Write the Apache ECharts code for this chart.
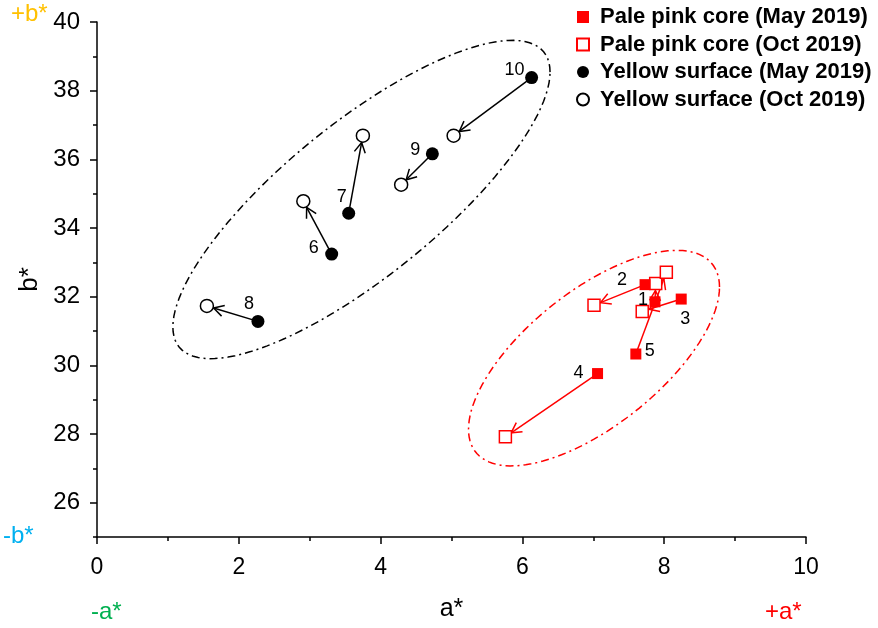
<!DOCTYPE html>
<html>
<head>
<meta charset="utf-8">
<script src="https://cdn.jsdelivr.net/npm/echarts@6/dist/echarts.min.js"></script>
<style>
  html, body { margin: 0; padding: 0; background: #fff; }
  #chart { width: 878px; height: 628px; }
</style>
</head>
<body>
<div id="chart"></div>
<script>
// sample ids
var pinkIds = ['1', '2', '3', '4', '5'];
var yellowIds = ['6', '7', '8', '9', '10'];

// [a*, b*]
var pinkMay = [[7.87, 31.85], [7.73, 32.35], [8.24, 31.93], [7.06, 29.76], [7.60, 30.33]];
var pinkOct = [[7.88, 32.38], [7.01, 31.75], [7.69, 31.57], [5.76, 27.92], [8.03, 32.71]];
var yellowMay = [[3.31, 33.24], [3.55, 34.43], [2.27, 31.28], [4.73, 36.16], [6.13, 38.38]];
var yellowOct = [[2.91, 34.78], [3.75, 36.69], [1.55, 31.73], [4.29, 35.26], [5.03, 36.69]];

// axis ticks
var xTicks = [0, 2, 4, 6, 8, 10];
var yMajorTicks = [26, 28, 30, 32, 34, 36, 38, 40];
var yMinorTicks = [25, 27, 29, 31, 33, 35, 37, 39];

// group ellipses: centre a*, b*, then two conjugate half-axis vectors (data units)
var yellowEllipse = [3.73, 34.83, 2.66, 3.71, 0, 2.78];
var pinkEllipse = [7.01, 30.21, 1.77, 2.07, 0, 2.36];

var chart = echarts.init(document.getElementById('chart'));

function pairs(from, to) {
  return from.map(function (p, i) { return [p[0], p[1], to[i][0], to[i][1]]; });
}

function arrowRenderer(color) {
  return function (params, api) {
    var p1 = api.coord([api.value(0), api.value(1)]);
    var p2 = api.coord([api.value(2), api.value(3)]);
    var dx = p2[0] - p1[0], dy = p2[1] - p1[1];
    var len = Math.sqrt(dx * dx + dy * dy);
    var ux = dx / len, uy = dy / len;
    var e = [p2[0] - ux * 7, p2[1] - uy * 7];
    var h = 10, w = 5.5;
    var l = [e[0] - ux * h - uy * w, e[1] - uy * h + ux * w];
    var r = [e[0] - ux * h + uy * w, e[1] - uy * h - ux * w];
    return {
      type: 'group',
      children: [
        { type: 'line', shape: { x1: p1[0], y1: p1[1], x2: e[0], y2: e[1] }, style: { stroke: color, lineWidth: 1.5 } },
        { type: 'polyline', shape: { points: [l, e, r] }, style: { stroke: color, lineWidth: 1.5, fill: null } }
      ]
    };
  };
}

function ellipseRenderer(color) {
  return function (params, api) {
    var pts = [];
    for (var i = 0; i <= 120; i++) {
      var t = i / 120 * Math.PI * 2;
      var c = Math.cos(t), s = Math.sin(t);
      pts.push(api.coord([
        api.value(0) + api.value(2) * c + api.value(4) * s,
        api.value(1) + api.value(3) * c + api.value(5) * s
      ]));
    }
    return {
      type: 'polyline',
      shape: { points: pts },
      style: { stroke: color, lineWidth: 1.5, fill: null, lineDash: [8, 4, 2, 4] }
    };
  };
}

var labelOffsets = {
  '1': [-12, -2], '2': [-23, -5], '3': [4, 20], '4': [-19, -1], '5': [14, -3],
  '6': [-18, -6], '7': [-7, -16], '8': [-9, -17], '9': [-17, -4], '10': [-17, -8]
};

var font = 'Liberation Sans, Arial, sans-serif';

function withLabels(points, ids) {
  return points.map(function (p, i) {
    return {
      value: p,
      label: {
        show: true, formatter: ids[i], position: 'inside', offset: labelOffsets[ids[i]],
        color: '#000', fontSize: 18, fontFamily: font
      }
    };
  });
}

chart.setOption({
  animation: false,
  grid: { left: 97, right: 72, top: 22, bottom: 91 },
  legend: {
    orient: 'vertical',
    left: 571,
    top: 1,
    itemWidth: 12,
    itemHeight: 12,
    itemGap: 5.5,
    data: ['Pale pink core (May 2019)', 'Pale pink core (Oct 2019)', 'Yellow surface (May 2019)', 'Yellow surface (Oct 2019)'],
    textStyle: { fontSize: 22, fontWeight: 'bold', color: '#000', fontFamily: font, lineHeight: 22, padding: [0, 0, 0, 6] }
  },
  xAxis: {
    type: 'value', min: 0, max: 10, interval: 2,
    name: 'a*', nameLocation: 'middle', nameGap: 60,
    nameTextStyle: { fontSize: 25, color: '#000', fontFamily: font },
    axisLine: { lineStyle: { color: '#000', width: 1.5 } },
    axisTick: { length: 7, lineStyle: { color: '#000', width: 1.5 } },
    minorTick: { show: true, splitNumber: 2, length: 4, lineStyle: { color: '#000', width: 1.5 } },
    splitLine: { show: false },
    axisLabel: { margin: 19, fontSize: 23, color: '#000', fontFamily: font, customValues: xTicks }
  },
  yAxis: [{
    type: 'value', min: 25, max: 40,
    name: 'b*', nameLocation: 'middle', nameGap: 50,
    nameTextStyle: { fontSize: 26, color: '#000', fontFamily: font },
    axisLine: { show: true, lineStyle: { color: '#000', width: 1.5 } },
    axisTick: { show: true, length: 7, customValues: yMajorTicks, lineStyle: { color: '#000', width: 1.5 } },
    splitLine: { show: false },
    axisLabel: { margin: 17, fontSize: 24, color: '#000', fontFamily: font, customValues: yMajorTicks }
  }, {
    type: 'value', min: 25, max: 40, position: 'left',
    axisLine: { show: false },
    axisTick: { show: true, length: 4, customValues: yMinorTicks, lineStyle: { color: '#000', width: 1.5 } },
    splitLine: { show: false },
    axisLabel: { show: false }
  }],
  graphic: [
    { type: 'text', left: 11, top: 2, style: { text: '+b*', fill: '#FFC000', fontSize: 24, fontFamily: font } },
    { type: 'text', left: 3, top: 524, style: { text: '-b*', fill: '#00B0F0', fontSize: 24, fontFamily: font } },
    { type: 'text', left: 91, top: 600, style: { text: '-a*', fill: '#00B050', fontSize: 24, fontFamily: font } },
    { type: 'text', left: 765, top: 600, style: { text: '+a*', fill: '#FF0000', fontSize: 24, fontFamily: font } }
  ],
  series: [
    { type: 'custom', renderItem: ellipseRenderer('#000'), data: [yellowEllipse], encode: { x: 0, y: 1 }, silent: true, z: 1 },
    { type: 'custom', renderItem: ellipseRenderer('#FF0000'), data: [pinkEllipse], encode: { x: 0, y: 1 }, silent: true, z: 1 },
    { type: 'custom', renderItem: arrowRenderer('#000'), data: pairs(yellowMay, yellowOct), encode: { x: [0, 2], y: [1, 3] }, silent: true, z: 2 },
    { type: 'custom', renderItem: arrowRenderer('#FF0000'), data: pairs(pinkMay, pinkOct), encode: { x: [0, 2], y: [1, 3] }, silent: true, z: 2 },
    {
      name: 'Pale pink core (May 2019)', type: 'scatter', symbol: 'rect', symbolSize: 11, z: 4,
      itemStyle: { color: '#FF0000', opacity: 1 }, data: withLabels(pinkMay, pinkIds)
    },
    {
      name: 'Pale pink core (Oct 2019)', type: 'scatter', symbol: 'rect', symbolSize: 12, z: 3,
      itemStyle: { color: '#fff', borderColor: '#FF0000', borderWidth: 1.5, opacity: 1 }, data: pinkOct
    },
    {
      name: 'Yellow surface (May 2019)', type: 'scatter', symbol: 'circle', symbolSize: 13, z: 4,
      itemStyle: { color: '#000', opacity: 1 }, data: withLabels(yellowMay, yellowIds)
    },
    {
      name: 'Yellow surface (Oct 2019)', type: 'scatter', symbol: 'circle', symbolSize: 13, z: 3,
      itemStyle: { color: '#fff', borderColor: '#000', borderWidth: 1.5, opacity: 1 }, data: yellowOct
    }
  ]
});
</script>
</body>
</html>
